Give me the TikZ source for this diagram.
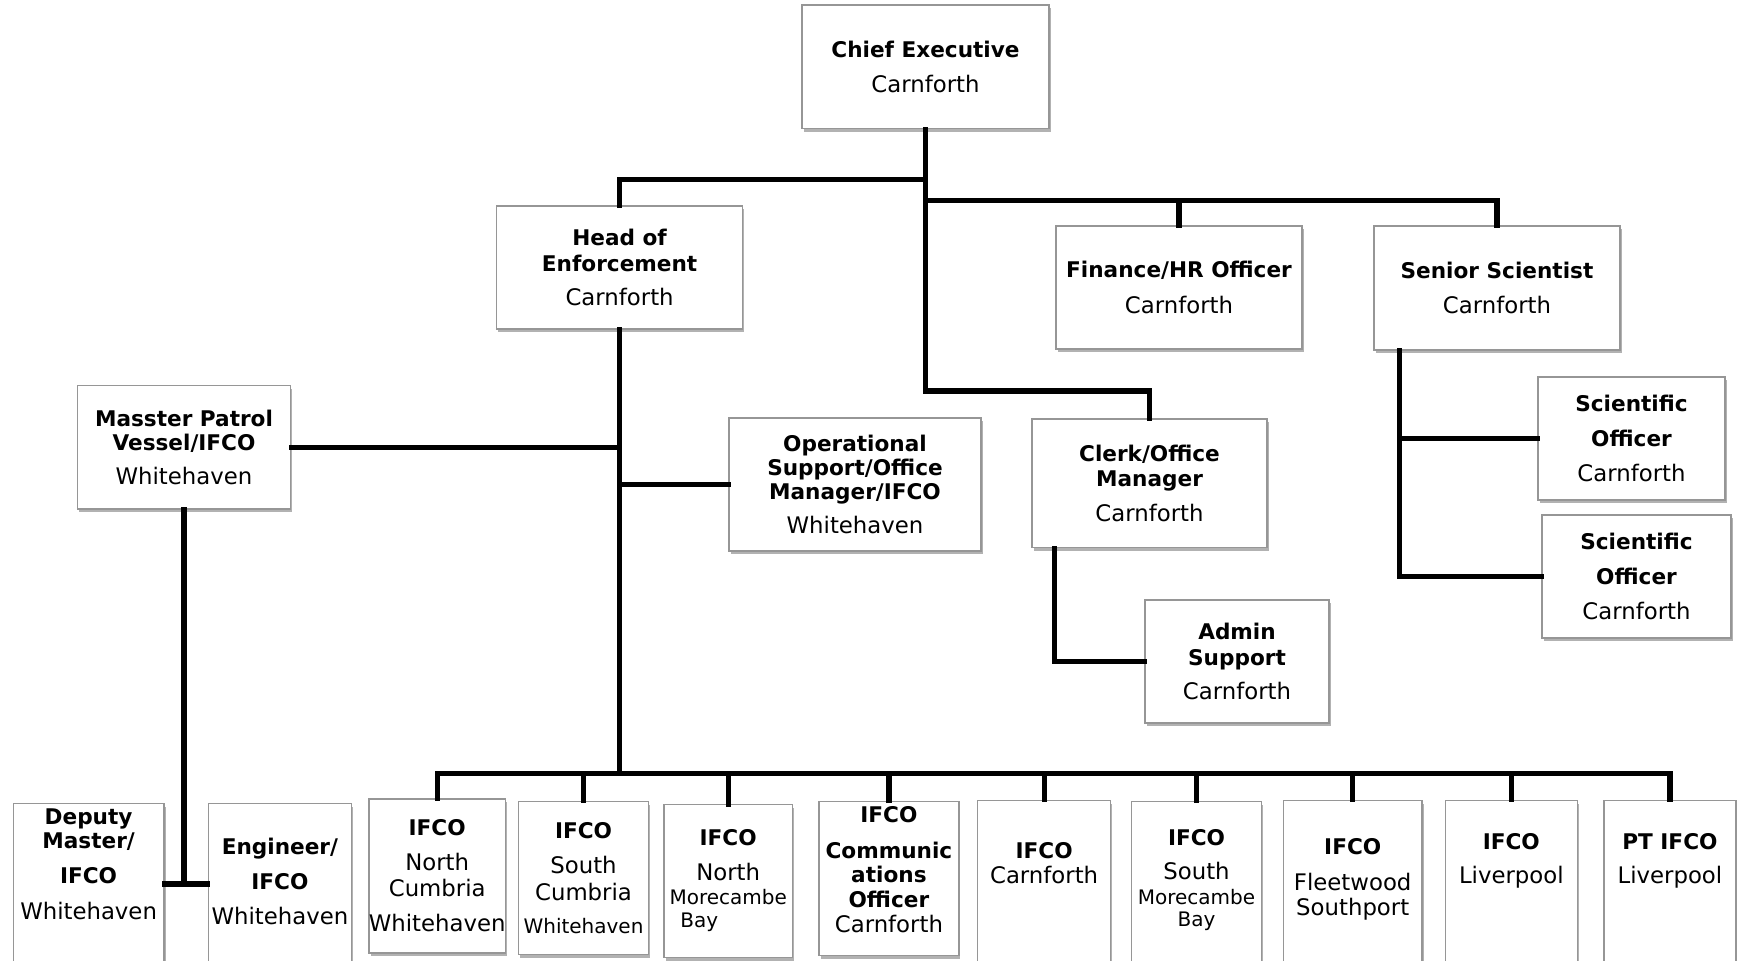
\documentclass[tikz,border=0pt]{standalone}
\usepackage{fontspec}
\setmainfont{DejaVu Sans}
\usetikzlibrary{fit,calc,shadows}
\definecolor{boxgray}{RGB}{150,150,150}
\newcommand\rgx{\fontsize{11.4}{12.6}\selectfont}
\newcommand\bfx{\fontsize{10.8}{12.6}\selectfont\bfseries}
\newcommand\smx{\fontsize{10}{12.6}\selectfont}
\tikzset{
  box/.style={draw=boxgray, line width=0.7pt, fill=white, inner sep=0pt,
    drop shadow={shadow xshift=0.8pt, shadow yshift=-1.6pt, opacity=0.3, fill=black}},
  txt/.style={align=center, inner sep=0pt, font=\rgx},
  conn/.style={line width=2.6pt, line join=miter, line cap=rect}
}
\begin{document}
\begin{tikzpicture}[x=0.5pt,y=-0.5pt]
\useasboundingbox (0,0) rectangle (1738,960);
\fill[white] (0,0) rectangle (1738,960);
\clip (0,0) rectangle (1738,960);

% top boxes
\node[box, fit={(802,5) (1049,128.6)}] (ce) {};
\node[box, fit={(496.6,206) (742.6,329)}] (hoe) {};
\node[box, fit={(1056,226) (1302,349)}] (fin) {};
\node[box, fit={(1374,226) (1620,350)}] (ss) {};
\node[box, fit={(77.6,385.7) (290.4,508.8)}] (mas) {};
\node[box, fit={(729,418) (981,551)}] (ops) {};
\node[box, fit={(1032,419) (1267,547.5)}] (clerk) {};
\node[box, fit={(1145,600) (1329,723)}] (admin) {};
\node[box, fit={(1538,377) (1725,500)}] (so1) {};
\node[box, fit={(1542,515) (1731,638)}] (so2) {};

% bottom boxes
\node[box, fit={(13.3,803.6) (164,985)}] (dep) {};
\node[box, fit={(208.4,803.6) (351.4,985)}] (eng) {};
\node[box, fit={(369,799) (505.4,953)}] (nc) {};
\node[box, fit={(518.7,801.4) (648.4,954.3)}] (sc) {};
\node[box, fit={(664,804.7) (792.5,957.6)}] (nm) {};
\node[box, fit={(819,801.4) (958.8,955.4)}] (com) {};
\node[box, fit={(977.6,800.3) (1110.6,985)}] (car) {};
\node[box, fit={(1131.7,801.4) (1261.4,985)}] (sm) {};
\node[box, fit={(1283.5,800.3) (1422,985)}] (fl) {};
\node[box, fit={(1445.4,800.3) (1577.3,985)}] (liv) {};
\node[box, fit={(1604,800.3) (1735.8,985)}] (pt) {};

% texts
\node[txt] (tce) at (ce.center) {{\bfx Chief Executive}\\[5pt]Carnforth};
\node[txt] (thoe) at (hoe.center) {{\bfx Head of}\\{\bfx Enforcement}\\[4.5pt]Carnforth};
\node[txt] (tfin) at (fin.center) {{\bfx Finance/HR Officer}\\[5pt]Carnforth};
\node[txt] (tss) at (ss.center) {{\bfx Senior Scientist}\\[5pt]Carnforth};
\node[txt] (tmas) at (mas.center) {{\bfx Masster Patrol}\\[-0.6pt]{\bfx Vessel/IFCO}\\[4.5pt]Whitehaven};
\node[txt] (tops) at (ops.center) {{\bfx Operational}\\[-0.6pt]{\bfx Support/Office}\\[-0.3pt]{\bfx Manager/IFCO}\\[4.5pt]Whitehaven};
\node[txt] (tclerk) at (clerk.center) {{\bfx Clerk/Office}\\{\bfx Manager}\\[4.5pt]Carnforth};
\node[txt] (tadmin) at (admin.center) {{\bfx Admin}\\{\bfx Support}\\[4.5pt]Carnforth};
\node[txt] (tso1) at (so1.center) {{\bfx Scientific}\\[5pt]{\bfx Officer}\\[5pt]Carnforth};
\node[txt] (tso2) at (so2.center) {{\bfx Scientific}\\[5pt]{\bfx Officer}\\[5pt]Carnforth};

\node[txt] (tdep) at (88.6,864.5) {{\bfx Deputy}\\[-0.4pt]{\bfx Master/}\\[4.6pt]{\bfx IFCO}\\[5.7pt]Whitehaven};
\node[txt] (teng) at (279.9,881.7) {{\bfx Engineer/}\\[4.6pt]{\bfx IFCO}\\[5pt]Whitehaven};
\node[txt] (tnc) at (437.2,875.6) {{\bfx IFCO}\\[4.6pt]North\\[0.7pt]Cumbria\\[4.6pt]Whitehaven};
\node[txt] (tsc) at (583.5,877.9) {{\bfx IFCO}\\[5pt]South\\[0.7pt]Cumbria\\[4pt]{\smx Whitehaven}};
\node[txt] (tnm) at (728.2,880.6) {{\bfx IFCO}\\[5pt]North\\[-0.4pt]{\smx Morecambe}\\[-1pt]{\smx Bay\hspace*{29pt}}};
\node[txt] (tcom) at (888.9,870) {{\bfx IFCO}\\[5pt]{\bfx Communic}\\[-0.4pt]{\bfx ations}\\[0pt]{\bfx Officer}\\[0pt]Carnforth};
\node[txt] (tcar) at (1044.1,862.9) {{\bfx IFCO}\\[0pt]Carnforth};
\node[txt] (tsm) at (1196.5,880) {{\bfx IFCO}\\[4.6pt]South\\[0pt]{\smx Morecambe}\\[-1.5pt]{\smx Bay}};
\node[txt] (tfl) at (1352.7,879.5) {{\bfx IFCO}\\[5pt]Fleetwood\\[0pt]Southport};
\node[txt] (tliv) at (1511.3,860.7) {{\bfx IFCO}\\[4.6pt]Liverpool};
\node[txt] (tpt) at (1669.9,860.7) {{\bfx PT IFCO}\\[4.6pt]Liverpool};

% connectors from Chief Executive
\coordinate (b1) at (925.5,179.6);
\coordinate (b2) at (925.5,200.6);
\coordinate (j1) at (925.5,391);
\draw[conn] (ce.south) -- (j1) -| (clerk.north);
\draw[conn] (b1) -| (hoe.north);
\draw[conn] (b2) -| (fin.north);
\draw[conn] (b2) -| (ss.north);

% senior scientist
\coordinate (ssd) at ($(ss.south west)+(26,0)$);
\draw[conn] (ssd) |- (so2.west);
\draw[conn] (so1.west) -- (so1.west -| ssd);

% clerk to admin
\coordinate (cd) at ($(clerk.south west)+(23,0)$);
\draw[conn] (cd) |- (admin.west);

% head of enforcement trunk
\coordinate (busT) at (619.6,773.7);
\draw[conn] (hoe.south) -- (busT);
\draw[conn] (mas.east) -- (mas.east -| hoe.south);
\draw[conn] (ops.west) -- (ops.west -| hoe.south);
\foreach \n in {nc,sc,nm,com,car,sm,fl,liv,pt}
  \draw[conn] (\n.north) |- (busT);

% master patrol vessel
\coordinate (mj) at (184,884);
\draw[conn] (mas.south) -- (mj);
\draw[conn] (dep.east |- mj) -- (eng.west |- mj);
\end{tikzpicture}
\end{document}
